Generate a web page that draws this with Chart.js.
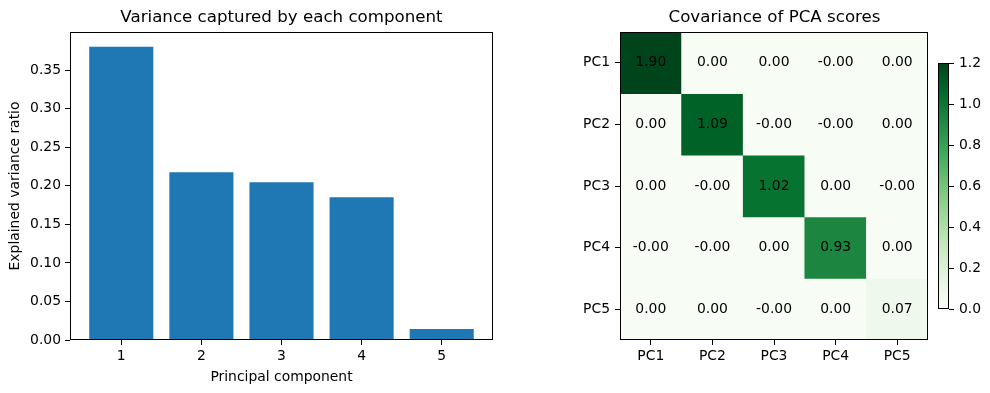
<!DOCTYPE html>
<html><head><meta charset="utf-8">
<script src="https://cdn.jsdelivr.net/npm/chart.js@4"></script>
<style>
html,body{margin:0;padding:0;background:#fff;width:990px;height:393px;overflow:hidden;position:relative}
canvas{position:absolute;top:0}
</style></head>
<body>
<canvas id="bar" width="563" height="393" style="left:0px"></canvas>
<canvas id="heat" width="429" height="393" style="left:560px"></canvas>
<canvas id="cbar" width="60" height="393" style="left:930px"></canvas>
<script>
// ---- data ----
const components = [1, 2, 3, 4, 5];
const varianceRatio = [0.3805, 0.2176, 0.2045, 0.1853, 0.0142];
const barYTicks = [0, 0.05, 0.10, 0.15, 0.20, 0.25, 0.30, 0.35];
const barYMax = 0.3995;
const pcLabels = ['PC1', 'PC2', 'PC3', 'PC4', 'PC5'];
const covPC1 = [1.90, 0.001, 0.001, -0.001, 0.001];
const covPC2 = [0.001, 1.09, -0.001, -0.001, 0.001];
const covPC3 = [0.001, -0.001, 1.02, 0.001, -0.001];
const covPC4 = [-0.001, -0.001, 0.001, 0.93, 0.001];
const covPC5 = [0.001, 0.001, -0.001, 0.001, 0.07];
const covRows = [covPC1, covPC2, covPC3, covPC4, covPC5];
const colorbarTicks = [0, 0.2, 0.4, 0.6, 0.8, 1.0, 1.2];
const vmin = 0, vmax = 1.2;

// ---- style helpers ----
const FONT = 'DejaVu Sans';
Chart.defaults.font.family = FONT;
Chart.defaults.font.size = 13.9;
Chart.defaults.color = '#000';
const GREENS = [[247,252,245],[229,245,224],[199,233,192],[161,217,155],[116,196,118],[65,171,93],[35,139,69],[0,109,44],[0,68,27]];
function greens(t) {
  t = Math.max(0, Math.min(1, t));
  const p = t * 8, i = Math.min(7, Math.floor(p)), f = p - i;
  const a = GREENS[i], b = GREENS[i + 1];
  return 'rgb(' + a.map((v, k) => Math.round(v + (b[k] - v) * f)).join(',') + ')';
}
const boxPlugin = {
  id: 'box',
  afterDraw(chart) {
    const {ctx, chartArea: a} = chart;
    ctx.save();
    ctx.strokeStyle = '#000';
    ctx.lineWidth = 1;
    const l = Math.round(a.left), t = Math.round(a.top), r = Math.round(a.right), b = Math.round(a.bottom);
    ctx.strokeRect(l + 0.5, t + 0.5, r - l - 1, b - t - 1);
    ctx.restore();
  }
};
function tickGrid() {
  return {drawOnChartArea: false, drawTicks: true, tickLength: 5, tickColor: '#000', tickWidth: 1, offset: false};
}
// invisible spacer axis on the right so the full-width title stays centred over the axes
function spacer(w) {
  return {
    type: 'linear', position: 'right', display: true,
    grid: {display: false}, border: {display: false}, ticks: {display: false},
    afterFit: s => { s.width = w; }
  };
}
const titleOpts = text => ({display: true, text, font: {family: FONT, size: 16.67, weight: 'normal'}, color: '#000', padding: {top: 8, bottom: 4}});

// ---- left: bar chart ----
new Chart(document.getElementById('bar'), {
  type: 'bar',
  data: {
    datasets: [{
      data: components.map((c, i) => ({x: c, y: varianceRatio[i]})),
      backgroundColor: '#1f77b4',
      borderWidth: 0,
      categoryPercentage: 1,
      barPercentage: 0.8
    }]
  },
  options: {
    responsive: false, animation: false, devicePixelRatio: 1,
    layout: {padding: 0},
    plugins: {legend: {display: false}, tooltip: {enabled: false}, title: titleOpts('Variance captured by each component')},
    scales: {
      x: {
        type: 'linear', min: 0.36, max: 5.64, offset: false,
        grid: tickGrid(), border: {display: false},
        afterBuildTicks: s => { s.ticks = components.map(v => ({value: v})); },
        afterFit: s => { s.height = 53; },
        ticks: {padding: 3, callback: v => String(v)},
        title: {display: true, text: 'Principal component', padding: {top: 0, bottom: 7}}
      },
      y: {
        min: 0, max: barYMax,
        grid: tickGrid(), border: {display: false},
        afterBuildTicks: s => { s.ticks = barYTicks.map(v => ({value: v})); },
        afterFit: s => { s.width = 70; },
        ticks: {padding: 4, callback: v => v.toFixed(2)},
        title: {display: true, text: 'Explained variance ratio', padding: {top: 7, bottom: 0}}
      },
      yRight: spacer(70)
    }
  },
  plugins: [boxPlugin]
});

// ---- right: heatmap ----
const annotPlugin = {
  id: 'annot',
  afterDatasetsDraw(chart) {
    const {ctx} = chart, xs = chart.scales.x, ys = chart.scales.y;
    ctx.save();
    ctx.font = '13.9px "' + FONT + '"';
    ctx.fillStyle = '#000';
    ctx.textAlign = 'center';
    ctx.textBaseline = 'middle';
    covRows.forEach((row, r) => row.forEach((v, c) => {
      ctx.fillText(v.toFixed(2), xs.getPixelForValue(c), ys.getPixelForValue(r));
    }));
    ctx.restore();
  }
};
new Chart(document.getElementById('heat'), {
  type: 'bar',
  data: {
    labels: pcLabels,
    datasets: covRows.map((row, r) => ({
      data: row.map(() => [r - 0.5, r + 0.5]),
      backgroundColor: row.map(v => greens((v - vmin) / (vmax - vmin))),
      borderWidth: 0,
      categoryPercentage: 1,
      barPercentage: 1,
      grouped: false
    }))
  },
  options: {
    responsive: false, animation: false, devicePixelRatio: 1,
    layout: {padding: 0},
    plugins: {legend: {display: false}, tooltip: {enabled: false}, title: titleOpts('Covariance of PCA scores')},
    scales: {
      x: {
        grid: tickGrid(), border: {display: false},
        afterFit: s => { s.height = 53; },
        ticks: {padding: 3}
      },
      y: {
        type: 'linear', reverse: true, min: -0.5, max: 4.5,
        grid: tickGrid(), border: {display: false},
        afterBuildTicks: s => { s.ticks = pcLabels.map((l, i) => ({value: i})); },
        afterFit: s => { s.width = 60; },
        ticks: {padding: 5, callback: v => pcLabels[v]}
      },
      yRight: spacer(61)
    }
  },
  plugins: [annotPlugin, boxPlugin]
});

// ---- colorbar ----
new Chart(document.getElementById('cbar'), {
  type: 'bar',
  data: {
    labels: [''],
    datasets: [{
      data: [[vmin, vmax]],
      backgroundColor: ctx => {
        const a = ctx.chart.chartArea;
        if (!a) return greens(0.5);
        const g = ctx.chart.ctx.createLinearGradient(0, a.bottom, 0, a.top);
        for (let i = 0; i <= 16; i++) g.addColorStop(i / 16, greens(i / 16));
        return g;
      },
      borderWidth: 0,
      categoryPercentage: 1,
      barPercentage: 1
    }]
  },
  options: {
    responsive: false, animation: false, devicePixelRatio: 1,
    layout: {padding: {left: 8, top: 63, bottom: 84, right: 0}},
    plugins: {legend: {display: false}, tooltip: {enabled: false}},
    scales: {
      x: {display: false},
      y: {
        position: 'right', min: vmin, max: vmax,
        grid: tickGrid(), border: {display: false},
        afterBuildTicks: s => { s.ticks = colorbarTicks.map(v => ({value: v})); },
        afterFit: s => { s.width = 41; },
        ticks: {padding: 5, callback: v => v.toFixed(1)}
      }
    }
  },
  plugins: [boxPlugin]
});
</script>
</body></html>
